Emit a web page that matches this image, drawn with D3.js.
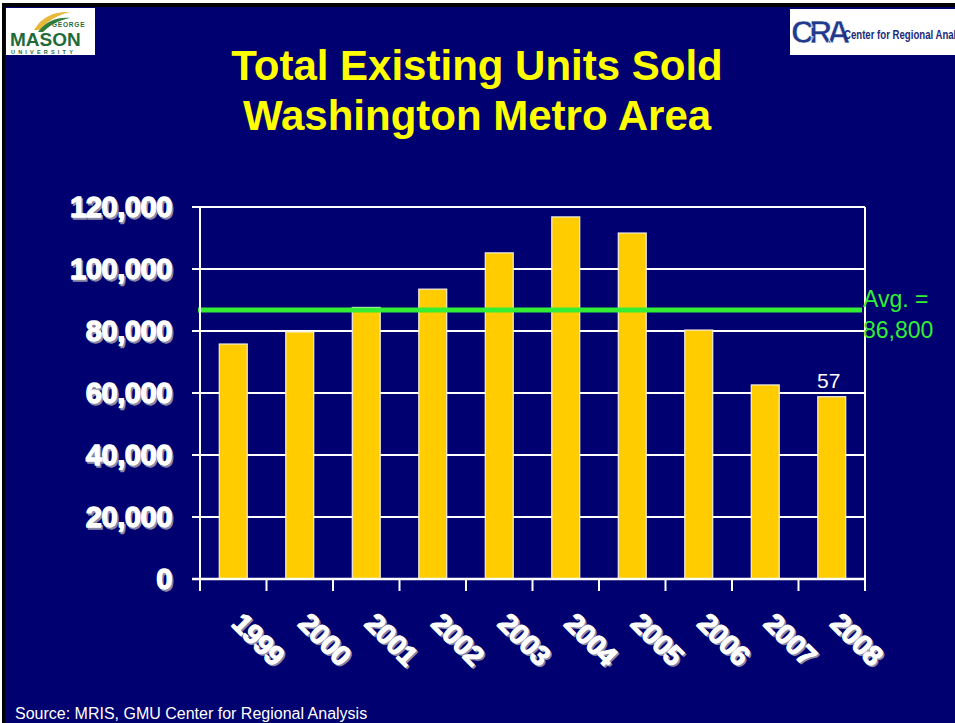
<!DOCTYPE html>
<html>
<head>
<meta charset="utf-8">
<script src="https://cdn.jsdelivr.net/npm/d3@7"></script>
<style>
    body { margin: 0; background: #ffffff; }
    svg { display: block; }
    text { font-family: "Liberation Sans", Arial, sans-serif; }
</style>
</head>
<body>
<div id="chart"></div>
<script>
// Data
var years = ['1999', '2000', '2001', '2002', '2003', '2004', '2005', '2006', '2007', '2008'];
var unitsSold = [75800, 79700, 87600, 93500, 105200, 116800, 111600, 80300, 62600, 58800];
var yTicks = [0, 20000, 40000, 60000, 80000, 100000, 120000];
var avgValue = 86800;
var avgLabel = ['Avg. =', '86,800'];
var lastBarLabel = '57';
var titleLines = ['Total Existing Units Sold', 'Washington Metro Area'];
var sourceText = 'Source: MRIS, GMU Center for Regional Analysis';

/**
 * Build the whole slide
 */
function buildSlide() {
    var W = 955, H = 723;
    var navy = '#000070';

    var svg = d3.select('#chart')
        .append('svg')
        .attr('width', W)
        .attr('height', H);

    // Slide background with a thin dark frame top / left
    svg.append('rect').attr('x', 0).attr('y', 0).attr('width', W).attr('height', H).attr('fill', '#ffffff');
    svg.append('rect').attr('x', 2).attr('y', 3).attr('width', W - 2).attr('height', H - 3).attr('fill', '#000000');
    svg.append('rect').attr('x', 5).attr('y', 7).attr('width', W - 5).attr('height', H - 7).attr('fill', navy);

    // GMU logo box
    var gmu = svg.append('g').attr('transform', 'translate(6,8)');
    gmu.append('rect').attr('width', 89).attr('height', 47).attr('fill', '#ffffff');
    gmu.append('path')
        .attr('d', 'M28,22 C36,8 50,3 64,4 C52,7 42,12 34,22 Z')
        .attr('fill', '#e8b83a');
    gmu.append('path')
        .attr('d', 'M32,24 C40,13 52,9 64,10 C54,12 45,16 37,24 Z')
        .attr('fill', '#2f7d3a');
    gmu.append('text').attr('x', 46).attr('y', 19).attr('font-size', 6.5).attr('font-weight', 'bold')
        .attr('fill', '#1f6b3a').attr('letter-spacing', 0.8).text('GEORGE');
    gmu.append('text').attr('x', 4).attr('y', 38).attr('font-size', 19).attr('font-weight', 'bold')
        .attr('font-family', 'Liberation Serif, serif')
        .attr('fill', '#1f6b3a').text('MASON');
    gmu.append('text').attr('x', 5).attr('y', 46).attr('font-size', 5.5).attr('font-weight', 'bold')
        .attr('fill', '#1f6b3a').attr('letter-spacing', 3.2).text('UNIVERSITY');

    // CRA logo box (cut off at the slide edge, as in the original)
    var cra = svg.append('g').attr('transform', 'translate(790,9)');
    cra.append('rect').attr('width', 165).attr('height', 46).attr('fill', '#ffffff');
    cra.append('text').attr('x', 1).attr('y', 34).attr('font-size', 32).attr('font-weight', 'bold')
        .attr('font-family', 'Liberation Serif, serif')
        .attr('fill', '#223a8c').attr('stroke', '#ffffff').attr('stroke-width', 0.6)
        .attr('letter-spacing', -5).text('CRA');
    cra.append('text').attr('x', 54).attr('y', 30).attr('font-size', 13)
        .attr('font-weight', 'bold')
        .attr('transform', 'translate(54,0) scale(0.74,1) translate(-54,0)')
        .attr('fill', '#1a2a7a').text('Center for Regional Analy');

    // Title
    svg.selectAll('text.title')
        .data(titleLines)
        .enter()
        .append('text')
        .attr('class', 'title')
        .attr('x', 477)
        .attr('y', function(d, i) { return 80 + i * 50; })
        .attr('text-anchor', 'middle')
        .attr('font-size', 42)
        .attr('font-weight', 'bold')
        .attr('fill', '#ffff00')
        .text(function(d) { return d; });

    // Plot area
    var left = 200, right = 865, top = 207, bottom = 579;

    var x = d3.scaleBand()
        .domain(years)
        .range([left, right])
        .paddingInner(0.58)
        .paddingOuter(0.29);

    var y = d3.scaleLinear()
        .domain([0, 120000])
        .range([bottom, top]);

    var grid = svg.append('g');

    // Horizontal gridlines (with small ticks left of the axis)
    grid.selectAll('line.grid')
        .data(yTicks.filter(function(t) { return t > 0; }))
        .enter()
        .append('line')
        .attr('x1', left - 8)
        .attr('x2', right)
        .attr('y1', function(d) { return y(d); })
        .attr('y2', function(d) { return y(d); })
        .attr('stroke', '#ffffff')
        .attr('stroke-width', 2);

    // Y axis labels with a grey drop shadow (heavy, like Arial Black)
    var yFmt = d3.format(',');
    [['#8a8aa8', 1.5], ['#ffffff', 0]].forEach(function(s) {
        grid.append('g')
            .selectAll('text')
            .data(yTicks)
            .enter()
            .append('text')
            .attr('x', 172 + s[1])
            .attr('y', function(d) { return y(d) + 10 + s[1]; })
            .attr('text-anchor', 'end')
            .attr('font-size', 29)
            .attr('font-weight', 'bold')
            .attr('fill', s[0])
            .attr('stroke', s[0])
            .attr('stroke-width', 1.3)
            .attr('stroke-linejoin', 'round')
            .attr('letter-spacing', -0.4)
            .text(function(d) { return yFmt(d); });
    });

    // Bars
    svg.append('g')
        .selectAll('rect')
        .data(unitsSold)
        .enter()
        .append('rect')
        .attr('x', function(d, i) { return x(years[i]); })
        .attr('y', function(d) { return y(d); })
        .attr('width', x.bandwidth())
        .attr('height', function(d) { return bottom - y(d); })
        .attr('fill', '#ffcc00')
        .attr('stroke', '#f4f0e0')
        .attr('stroke-width', 1.2);

    // Average line
    svg.append('line')
        .attr('x1', left - 2)
        .attr('x2', right - 3)
        .attr('y1', y(avgValue))
        .attr('y2', y(avgValue))
        .attr('stroke', '#33ee33')
        .attr('stroke-width', 5);

    // Axes lines
    svg.append('line')
        .attr('x1', left).attr('x2', left)
        .attr('y1', top).attr('y2', bottom + 12)
        .attr('stroke', '#ffffff').attr('stroke-width', 2);
    svg.append('line')
        .attr('x1', right).attr('x2', right)
        .attr('y1', top).attr('y2', bottom + 12)
        .attr('stroke', '#ffffff').attr('stroke-width', 2);
    svg.append('line')
        .attr('x1', left - 8).attr('x2', right)
        .attr('y1', bottom).attr('y2', bottom)
        .attr('stroke', '#ffffff').attr('stroke-width', 2.5);

    // Category ticks between bands
    var step = x.step();
    svg.append('g')
        .selectAll('line')
        .data(years.slice(1))
        .enter()
        .append('line')
        .attr('x1', function(d) { return x(d) - step * 0.29; })
        .attr('x2', function(d) { return x(d) - step * 0.29; })
        .attr('y1', bottom)
        .attr('y2', bottom + 12)
        .attr('stroke', '#ffffff')
        .attr('stroke-width', 2);

    // Rotated year labels
    [['#8a8aa8', 1.5], ['#ffffff', 0]].forEach(function(s) {
        svg.append('g')
            .selectAll('text')
            .data(years)
            .enter()
            .append('text')
            .attr('transform', function(d) {
                var cx = x(d) + x.bandwidth() / 2 - 3 + s[1];
                return 'translate(' + cx + ',' + (625 + s[1]) + ') rotate(45)';
            })
            .attr('font-size', 28)
            .attr('font-weight', 'bold')
            .attr('fill', s[0])
            .attr('stroke', s[0])
            .attr('stroke-width', 1.2)
            .attr('stroke-linejoin', 'round')
            .attr('letter-spacing', -0.6)
            .text(function(d) { return d; });
    });

    // Label above the last bar
    var lastYear = years[years.length - 1];
    svg.append('text')
        .attr('x', x(lastYear) + x.bandwidth() / 2 - 3)
        .attr('y', y(unitsSold[unitsSold.length - 1]) - 9)
        .attr('text-anchor', 'middle')
        .attr('font-size', 21)
        .attr('fill', '#ffffff')
        .text(lastBarLabel);

    // Average label
    svg.selectAll('text.avg')
        .data(avgLabel)
        .enter()
        .append('text')
        .attr('class', 'avg')
        .attr('x', right - 2)
        .attr('y', function(d, i) { return y(avgValue) - 3 + i * 31; })
        .attr('font-size', 23)
        .attr('fill', '#33ee33')
        .text(function(d) { return d; });

    // Source note
    svg.append('text')
        .attr('x', 15)
        .attr('y', 719)
        .attr('font-size', 16)
        .attr('fill', '#ffffff')
        .text(sourceText);
}

buildSlide();
</script>
</body>
</html>
